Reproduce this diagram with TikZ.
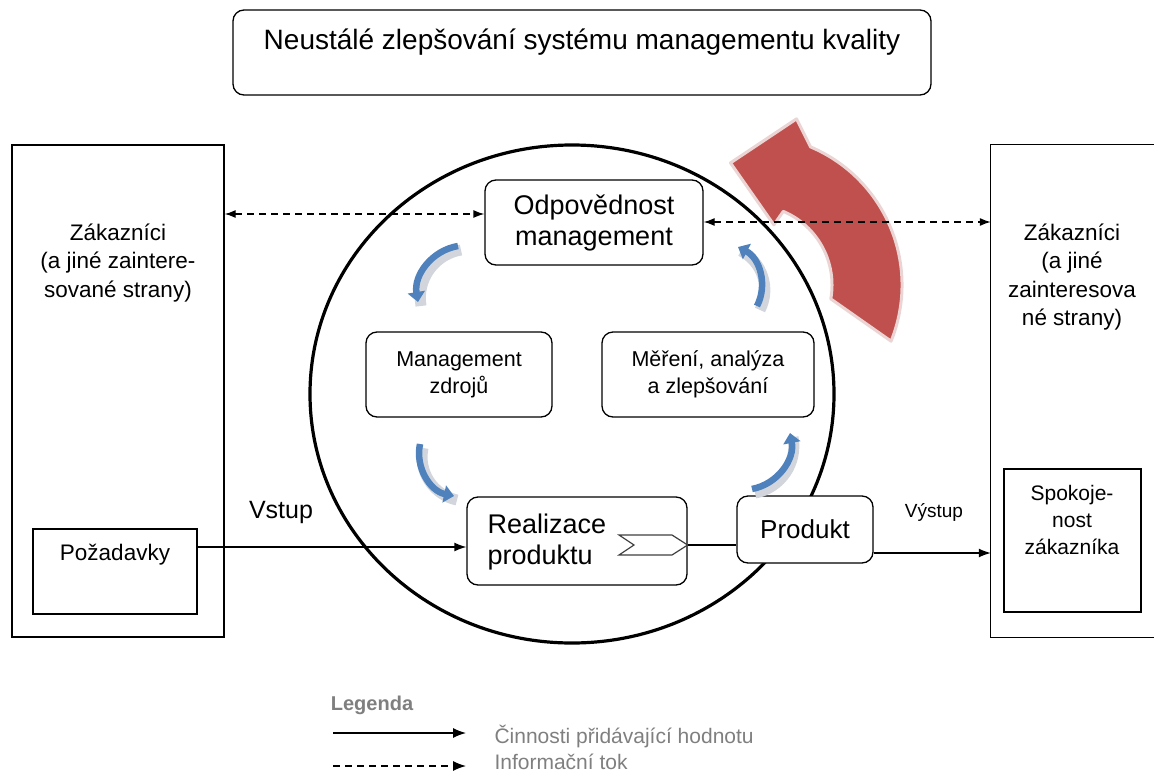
\documentclass[tikz,border=0pt]{standalone}
\usepackage{fontspec}
\setmainfont{Liberation Sans}
\usetikzlibrary{arrows.meta,calc}
\definecolor{cycblue}{HTML}{4F81BD}
\definecolor{cycrim}{HTML}{D2D6DC}
\definecolor{improvered}{HTML}{C0504D}
\definecolor{redrim}{HTML}{EBD5D4}
\definecolor{legendgray}{HTML}{7F7F7F}

\begin{document}
\begin{tikzpicture}[x=1pt,y=-1pt,
  box/.style={draw=black, line width=1.3pt, fill=white},
  rbox/.style={box, rounded corners=11pt},
  bigtext/.style={font=\fontsize{27}{31}\selectfont, align=center},
  midtext/.style={font=\fontsize{21.5}{27}\selectfont, align=center},
  sidetext/.style={font=\fontsize{22.5}{28.5}\selectfont, align=center},
  flow/.style={line width=1.3pt, -{Latex[length=12pt,width=9pt]}},
  info/.style={line width=1.3pt, dash pattern=on 7pt off 5pt,
    {Latex[length=11pt,width=8pt]}-{Latex[length=11pt,width=8pt]}},
  cyc/.style={line width=6.5pt, draw=cycblue, -{Triangle[length=10pt,width=17pt]}},
  cycshade/.style={line width=11pt, draw=cycrim, line cap=butt},
  legtext/.style={font=\fontsize{21}{25}\selectfont, text=legendgray, anchor=west},
]
\useasboundingbox (0,0) rectangle (1154,774);

% ---------- improvement arrow (behind everything else) ----------
\begin{scope}[shift={(752,285)}]
  \filldraw[fill=improvered, draw=redrim, line width=3pt, line join=round]
    (10:80) arc[start angle=10, end angle=-67, radius=80]
    -- (-70:64) -- (-100:124) -- (-75:172) -- (-67:150)
    arc[start angle=-67, end angle=22, radius=150] -- cycle;
\end{scope}

% ---------- process circle ----------
\draw[line width=3.2pt] (572,394) ellipse[x radius=262, y radius=249];

% ---------- top banner ----------
\node[rbox, minimum width=698pt, minimum height=85pt] (title) at (582,52.5) {};
\node[font=\fontsize{28}{32}\selectfont] (titletext) at (582,42)
  {Neustálé zlepšování systému managementu kvality};

% ---------- customers on both sides ----------
\node[box, minimum width=212pt, minimum height=492pt] (L) at (118,391) {};
\node[draw=none, minimum width=172pt, minimum height=492pt] (R) at (1077,391) {};
\draw[line width=1.3pt] (R.north east) -- (R.north west) -- (R.south west) -- (R.south east);

\node[sidetext] (lcust) at (118,263) {Zákazníci\\(a jiné zaintere-\\sované strany)};
\node[sidetext] (rcust) at (1072,277) {Zákazníci\\(a jiné\\zainteresova\\né strany)};

\node[box, minimum width=164pt, minimum height=85pt] (req) at (115,571.5) {};
\node[sidetext] (reqtext) at (115,555) {Požadavky};

\node[box, minimum width=137pt, minimum height=143pt] (sat) at (1072.5,540.5) {};
\node[font=\fontsize{21}{27}\selectfont, align=center] (sattext) at (1072,520)
  {Spokoje-\\nost\\zákazníka};

% ---------- processes inside the circle ----------
\node[rbox, minimum width=218pt, minimum height=85pt, bigtext] (resp) at (594,222.5)
  {Odpovědnost\\management};
\node[rbox, minimum width=186pt, minimum height=85pt, midtext] (res) at (459,374.5)
  {Management\\zdrojů};
\node[rbox, minimum width=212pt, minimum height=85pt, midtext] (meas) at (708,374.5)
  {Měření, analýza\\a zlepšování};
\node[rbox, minimum width=220pt, minimum height=88pt] (real) at (577,541) {};
\node[bigtext, align=left, anchor=west] (realtext) at (484,542) {Realizace\\produktu};
\node[rbox, minimum width=136pt, minimum height=67pt,
  font=\fontsize{26}{30}\selectfont] (prod) at (805,529.5) {Produkt};

% value-adding step marker inside the realisation box
\draw[line width=1.2pt, draw=black!75, fill=white, line join=miter]
  (619,535) -- (672,535) -- (real.east |- 0,545) -- (672,555) -- (619,555) -- (634,545) -- cycle;

% ---------- value-adding flow ----------
\coordinate (vin) at (0,547);
\coordinate (vout) at (0,553);
\draw[flow] (req.east |- vin) -- (real.west |- vin);
\draw[line width=1.3pt] (real.east |- 0,545) -- (prod.west |- 0,545);
\draw[flow] (prod.east |- vout) -- (R.west |- vout);

\node[font=\fontsize{25}{30}\selectfont] (vstup) at (281,512) {Vstup};
\node[font=\fontsize{19}{23}\selectfont] (vystup) at (934,512) {Výstup};

% ---------- information flow ----------
\coordinate (iL) at (0,214);
\coordinate (iR) at (0,222);
\draw[info] (L.east |- iL) -- (resp.west |- iL);
\draw[info] (resp.east |- iR) -- (R.west |- iR);

% ---------- cycle arrows ----------
\coordinate (c1a) at (458,246); \coordinate (c1b) at (418,302);
\coordinate (c2a) at (420,444); \coordinate (c2b) at (454,496);
\coordinate (c3a) at (752,489); \coordinate (c3b) at (790,433);
\coordinate (c4a) at (757,306); \coordinate (c4b) at (738,247);
\foreach \a/\b in {c1a/c1b, c2a/c2b, c3a/c3b, c4a/c4b} {
  \draw[cycshade] ([shift={(3,4)}]\a) to[bend right=45] ([shift={(3,4)}]\b);
  \draw[cyc] (\a) to[bend right=45] (\b);
}

% ---------- legend ----------
\node[font=\bfseries\fontsize{20}{24}\selectfont, text=legendgray] (legtitle) at (372,705) {Legenda};
\coordinate (ls1) at (333,733); \coordinate (ls2) at (466,733);
\coordinate (ld1) at (333,766); \coordinate (ld2) at (466,766);
\draw[line width=1.3pt, -{Latex[length=13pt,width=10pt]}] (ls1) -- (ls2);
\draw[line width=1.3pt, dash pattern=on 7pt off 5pt, -{Latex[length=13pt,width=10pt]}] (ld1) -- (ld2);
\node[legtext] (legvalue) at (491,736) {Činnosti přidávající hodnotu};
\node[legtext] (leginfo) at (491,762) {Informační tok};
\end{tikzpicture}
\end{document}
